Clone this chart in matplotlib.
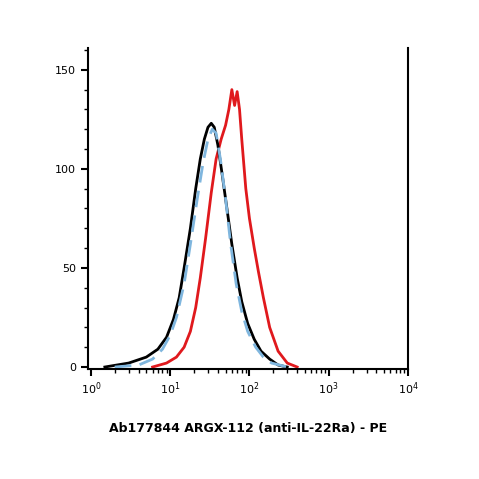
import matplotlib
matplotlib.use("Agg")
import matplotlib.pyplot as plt
import numpy as np
from matplotlib.ticker import LogLocator, NullFormatter, MultipleLocator

black_x = [1.5, 3, 5, 7, 9, 11, 13, 15, 18, 21, 24, 27, 30, 33, 36, 40, 45, 52, 60, 70, 80, 95, 115, 140, 180, 230, 300]
black_y = [0, 2, 5, 9, 15, 24, 35, 50, 70, 90, 105, 115, 121, 123, 121, 112, 98, 80, 62, 45, 33, 22, 14, 8, 4, 1, 0]
blue_x = [2, 4, 6, 8, 10, 12, 15, 18, 22, 26, 30, 34, 38, 43, 50, 58, 68, 80, 95, 120, 150, 190, 240, 300]
blue_y = [0, 1, 4, 9, 16, 25, 42, 62, 85, 103, 115, 120, 118, 105, 85, 62, 42, 28, 18, 10, 5, 2, 1, 0]
red_x = [6, 9, 12, 15, 18, 21, 24, 28, 33, 38, 44, 50, 55, 60, 65, 70, 75, 80, 90, 100, 115, 130, 150, 180, 230, 300, 400]
red_y = [0, 2, 5, 10, 18, 30, 45, 65, 88, 105, 115, 122, 130, 140, 132, 139, 130, 115, 90, 75, 60, 48, 35, 20, 8, 2, 0]

fig = plt.figure(figsize=(4.79, 4.79), dpi=100)
ax = fig.add_axes([88/479, 1-369/479, (408-88)/479, (369-48)/479])
ax.plot(red_x, red_y, color="#e0191d", lw=2)
ax.plot(black_x, black_y, color="black", lw=2)
ax.plot(blue_x, blue_y, color="#7fb6de", lw=2, ls=(0, (6, 3)))
ax.set_xscale("log")
ax.set_xlim(0.92, 10**4)
ax.set_ylim(-1, 161)
ax.spines["top"].set_visible(False)
for s in ax.spines.values():
    s.set_linewidth(1.5)
ax.xaxis.set_major_locator(LogLocator(base=10, numticks=10))
ax.xaxis.set_minor_locator(LogLocator(base=10, subs=np.arange(2, 10), numticks=20))
ax.xaxis.set_minor_formatter(NullFormatter())
ax.yaxis.set_major_locator(MultipleLocator(50))
ax.yaxis.set_minor_locator(MultipleLocator(10))
ax.tick_params(which="major", length=5, width=1.5, labelsize=8)
ax.tick_params(which="minor", length=3, width=1)
ax.set_ylabel("Count", fontsize=9, labelpad=45)
ax.set_xlabel("Ab177844 ARGX-112 (anti-IL-22Ra) - PE", fontsize=9, fontweight="bold", labelpad=18)
fig.savefig("out.png", dpi=100)
